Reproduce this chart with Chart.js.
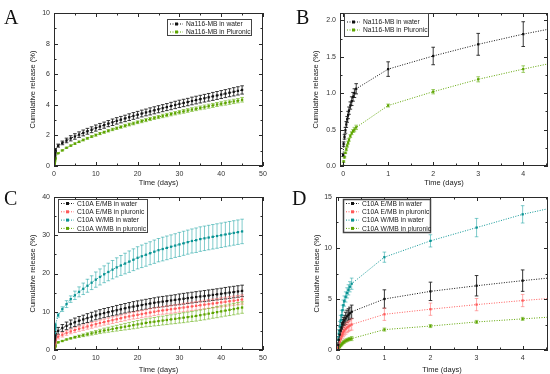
<!DOCTYPE html>
<html lang="en">
  <head>
    <meta charset="UTF-8" />
    <title>Cumulative release</title>
    <script src="https://cdn.jsdelivr.net/npm/chart.js@4"></script>
    <style>
      body { margin: 0; background: #fff; }
      #fig { position: relative; width: 550px; height: 374px; }
      .panel { position: absolute; width: 275px; height: 187px; }
      .letter {
        position: absolute;
        font-family: "Liberation Serif", "DejaVu Serif", serif;
        font-size: 20px;
        color: #111;
        line-height: 1;
      }
    </style>
  </head>
  <body>
    <div id="fig">
      <div class="panel" style="left:0;top:0"><canvas id="chartA" width="275" height="187"></canvas></div>
      <div class="panel" style="left:275px;top:0"><canvas id="chartB" width="275" height="187"></canvas></div>
      <div class="panel" style="left:0;top:187px"><canvas id="chartC" width="275" height="187"></canvas></div>
      <div class="panel" style="left:275px;top:187px"><canvas id="chartD" width="275" height="187"></canvas></div>
      <div class="letter" style="left:4px;top:7px">A</div>
      <div class="letter" style="left:296px;top:7px">B</div>
      <div class="letter" style="left:4px;top:188px">C</div>
      <div class="letter" style="left:292px;top:188px">D</div>
    </div>

    <script>
      // time points (days): first hours, then daily
      const timeDays = [
        0, 0.01, 0.03, 0.05, 0.07, 0.09, 0.11, 0.13, 0.16, 0.19, 0.22, 0.25, 0.29,
        1, 2, 3, 4, 5, 6, 7, 8, 9, 10, 11, 12, 13, 14, 15, 16, 17, 18, 19, 20,
        21, 22, 23, 24, 25, 26, 27, 28, 29, 30, 31, 32, 33, 34, 35, 36, 37, 38,
        39, 40, 41, 42, 43, 44, 45,
      ];

      // Na116-MB (panels A, B)
      const naWater = [
        0.15, 0.30, 0.40, 0.49, 0.57, 0.64, 0.70, 0.76, 0.83, 0.89, 0.95, 1.00, 1.06,
        1.33, 1.51, 1.67, 1.81, 1.93, 2.05, 2.16, 2.27, 2.37, 2.48, 2.58, 2.67,
        2.77, 2.86, 2.95, 3.03, 3.11, 3.19, 3.27, 3.35, 3.43, 3.50, 3.57, 3.64,
        3.71, 3.78, 3.85, 3.92, 3.99, 4.06, 4.12, 4.18, 4.25, 4.31, 4.37, 4.43,
        4.49, 4.55, 4.61, 4.67, 4.73, 4.79, 4.85, 4.91, 4.97,
      ];
      const naWaterErr = [
        0.02, 0.03, 0.03, 0.04, 0.04, 0.04, 0.05, 0.05, 0.05, 0.06, 0.06, 0.06, 0.07,
        0.10, 0.12, 0.15, 0.17, 0.18, 0.18, 0.19, 0.19, 0.19, 0.20, 0.20, 0.20,
        0.20, 0.21, 0.21, 0.21, 0.21, 0.22, 0.22, 0.22, 0.22, 0.22, 0.23, 0.23,
        0.23, 0.23, 0.23, 0.24, 0.24, 0.24, 0.24, 0.24, 0.25, 0.25, 0.25, 0.25,
        0.25, 0.26, 0.26, 0.26, 0.26, 0.26, 0.27, 0.27, 0.27,
      ];
      const naPluronic = [
        0.00, 0.06, 0.12, 0.18, 0.23, 0.28, 0.32, 0.36, 0.41, 0.45, 0.48, 0.50, 0.53,
        0.83, 1.02, 1.19, 1.33, 1.46, 1.58, 1.70, 1.81, 1.92, 2.02, 2.12, 2.21,
        2.30, 2.39, 2.47, 2.55, 2.63, 2.71, 2.78, 2.86, 2.93, 3.00, 3.07, 3.14,
        3.20, 3.27, 3.33, 3.39, 3.45, 3.51, 3.57, 3.63, 3.69, 3.74, 3.80, 3.85,
        3.91, 3.96, 4.02, 4.07, 4.12, 4.17, 4.22, 4.27, 4.33,
      ];
      const naPluronicErr = [
        0.01, 0.01, 0.01, 0.01, 0.02, 0.02, 0.02, 0.02, 0.02, 0.02, 0.02, 0.03, 0.03,
        0.02, 0.03, 0.035, 0.045, 0.05, 0.05, 0.06, 0.06, 0.06, 0.07, 0.07, 0.07,
        0.08, 0.08, 0.08, 0.08, 0.09, 0.09, 0.09, 0.09, 0.10, 0.10, 0.10, 0.10,
        0.10, 0.11, 0.11, 0.11, 0.11, 0.11, 0.12, 0.12, 0.12, 0.12, 0.12, 0.13,
        0.13, 0.13, 0.13, 0.13, 0.14, 0.14, 0.14, 0.14, 0.15,
      ];

      // C10A (panels C, D)
      const emWater = [
        0.5, 1.0, 1.5, 1.9, 2.2, 2.5, 2.7, 2.9, 3.1, 3.3, 3.45, 3.6, 3.75,
        5.0, 5.75, 6.3, 6.8, 7.25, 7.65, 8.0, 8.35, 8.7, 9.05, 9.35, 9.65,
        9.9, 10.15, 10.4, 10.65, 10.9, 11.15, 11.35, 11.55, 11.75, 11.95, 12.15, 12.35,
        12.5, 12.65, 12.8, 12.95, 13.1, 13.25, 13.4, 13.55, 13.7, 13.85, 14.0, 14.1,
        14.25, 14.4, 14.55, 14.7, 14.85, 15.0, 15.15, 15.3, 15.45,
      ];
      const emWaterErr = [
        0.2, 0.3, 0.4, 0.4, 0.5, 0.5, 0.5, 0.5, 0.6, 0.6, 0.6, 0.6, 0.65,
        0.9, 0.9, 1.0, 1.05, 1.1, 1.1, 1.1, 1.15, 1.15, 1.15, 1.2, 1.2,
        1.2, 1.2, 1.25, 1.25, 1.25, 1.25, 1.3, 1.3, 1.3, 1.3, 1.3, 1.3,
        1.35, 1.35, 1.35, 1.35, 1.35, 1.4, 1.4, 1.4, 1.4, 1.4, 1.4, 1.45,
        1.45, 1.45, 1.45, 1.45, 1.5, 1.5, 1.5, 1.5, 1.5,
      ];
      const emPluronic = [
        0.2, 0.5, 0.8, 1.1, 1.35, 1.55, 1.75, 1.9, 2.05, 2.2, 2.3, 2.4, 2.5,
        3.5, 4.0, 4.45, 4.85, 5.2, 5.55, 5.85, 6.15, 6.45, 6.75, 7.05, 7.3,
        7.55, 7.8, 8.05, 8.3, 8.55, 8.8, 9.0, 9.2, 9.4, 9.6, 9.8, 10.0,
        10.2, 10.35, 10.5, 10.65, 10.8, 10.95, 11.1, 11.25, 11.4, 11.55, 11.7, 11.85,
        12.0, 12.15, 12.3, 12.45, 12.6, 12.75, 12.9, 13.05, 13.2,
      ];
      const emPluronicErr = [
        0.2, 0.25, 0.3, 0.35, 0.4, 0.4, 0.45, 0.45, 0.5, 0.5, 0.5, 0.5, 0.55,
        0.6, 0.6, 0.6, 0.6, 0.65, 0.65, 0.7, 0.7, 0.75, 0.75, 0.8, 0.8,
        0.8, 0.85, 0.85, 0.85, 0.9, 0.9, 0.9, 0.95, 0.95, 0.95, 1.0, 1.0,
        1.0, 1.0, 1.05, 1.05, 1.05, 1.05, 1.1, 1.1, 1.1, 1.1, 1.1, 1.15,
        1.15, 1.15, 1.15, 1.2, 1.2, 1.2, 1.2, 1.2, 1.2,
      ];
      const wmWater = [
        1.0, 1.6, 2.3, 2.9, 3.4, 3.9, 4.4, 4.8, 5.2, 5.6, 5.9, 6.2, 6.5,
        9.1, 10.7, 12.0, 13.3, 14.3, 15.2, 16.0, 16.8, 17.6, 18.4, 19.1, 19.8,
        20.4, 21.0, 21.6, 22.1, 22.6, 23.1, 23.6, 24.1, 24.5, 24.9, 25.3, 25.7,
        26.1, 26.4, 26.7, 27.0, 27.3, 27.6, 27.9, 28.2, 28.5, 28.7, 29.0, 29.2,
        29.4, 29.6, 29.8, 30.0, 30.2, 30.4, 30.6, 30.8, 31.0,
      ];
      const wmWaterErr = [
        0.3, 0.4, 0.5, 0.5, 0.5, 0.5, 0.5, 0.5, 0.5, 0.5, 0.5, 0.5, 0.55,
        0.5, 0.6, 0.9, 0.85, 1.1, 1.3, 1.5, 1.7, 1.8, 2.0, 2.1, 2.2,
        2.3, 2.4, 2.5, 2.6, 2.7, 2.8, 2.85, 2.9, 2.95, 3.0, 3.0, 3.05,
        3.05, 3.1, 3.1, 3.1, 3.1, 3.15, 3.15, 3.15, 3.15, 3.2, 3.2, 3.2,
        3.2, 3.2, 3.2, 3.2, 3.2, 3.2, 3.2, 3.2, 3.2,
      ];
      const wmPluronic = [
        0.0, 0.15, 0.3, 0.45, 0.55, 0.65, 0.75, 0.82, 0.9, 0.97, 1.03, 1.08, 1.12,
        2.0, 2.35, 2.75, 3.05, 3.35, 3.6, 3.85, 4.1, 4.35, 4.6, 4.85, 5.1,
        5.3, 5.5, 5.7, 5.9, 6.1, 6.3, 6.5, 6.7, 6.9, 7.1, 7.25, 7.4,
        7.55, 7.7, 7.85, 8.0, 8.15, 8.3, 8.45, 8.6, 8.75, 8.9, 9.1, 9.3,
        9.5, 9.7, 9.9, 10.1, 10.3, 10.5, 10.7, 10.9, 11.1,
      ];
      const wmPluronicErr = [
        0.05, 0.08, 0.1, 0.1, 0.12, 0.12, 0.12, 0.15, 0.15, 0.15, 0.15, 0.15, 0.2,
        0.15, 0.15, 0.15, 0.15, 0.25, 0.3, 0.35, 0.4, 0.45, 0.5, 0.55, 0.6,
        0.65, 0.7, 0.75, 0.8, 0.85, 0.9, 0.95, 1.0, 1.0, 1.05, 1.1, 1.1,
        1.15, 1.15, 1.2, 1.2, 1.25, 1.25, 1.3, 1.3, 1.3, 1.35, 1.35, 1.4,
        1.4, 1.4, 1.45, 1.45, 1.45, 1.5, 1.5, 1.5, 1.5,
      ];

      const FONT = "'Liberation Sans', Arial, sans-serif";

      function pts(values) {
        return values.map((v, i) => ({ x: timeDays[i], y: v }));
      }

      function series(label, values, errs, color, errColor) {
        return {
          label: label,
          data: pts(values),
          errors: errs,
          errColor: errColor,
          showLine: true,
          borderColor: color,
          backgroundColor: color,
          borderWidth: 1,
          borderDash: [1, 1.5],
          pointStyle: "rect",
          pointRadius: 1.6,
          pointBorderWidth: 0,
          pointHoverRadius: 1.6,
        };
      }

      // error bars, frame, inner ticks, legend box
      const originPlugin = {
        id: "originStyle",
        beforeDatasetsDraw(chart) {
          const ctx = chart.ctx;
          const a = chart.chartArea;
          ctx.save();
          ctx.beginPath();
          ctx.rect(a.left, a.top, a.right - a.left, a.bottom - a.top);
          ctx.clip();
          chart.data.datasets.forEach((ds) => {
            ctx.strokeStyle = ds.errColor;
            ctx.lineWidth = 0.9;
            ds.data.forEach((p, i) => {
              const e = ds.errors[i];
              const x = chart.scales.x.getPixelForValue(p.x);
              const y1 = chart.scales.y.getPixelForValue(p.y - e);
              const y2 = chart.scales.y.getPixelForValue(p.y + e);
              ctx.beginPath();
              ctx.moveTo(x, y1);
              ctx.lineTo(x, y2);
              ctx.moveTo(x - 1.8, y1);
              ctx.lineTo(x + 1.8, y1);
              ctx.moveTo(x - 1.8, y2);
              ctx.lineTo(x + 1.8, y2);
              ctx.stroke();
            });
          });
          ctx.restore();
        },
        afterDraw(chart) {
          const ctx = chart.ctx;
          const a = chart.chartArea;
          const sx = chart.scales.x;
          const sy = chart.scales.y;
          ctx.save();
          ctx.strokeStyle = "#2a2a2a";
          ctx.lineWidth = 1;
          ctx.strokeRect(Math.round(a.left) + 0.5, Math.round(a.top) + 0.5,
            Math.round(a.right - a.left) - 1, Math.round(a.bottom - a.top) - 1);
          ctx.beginPath();
          const xt = sx.ticks.map((t) => t.value);
          const yt = sy.ticks.map((t) => t.value);
          const step = (arr) => (arr.length > 1 ? arr[1] - arr[0] : 1);
          const xs = step(xt);
          const ys = step(yt);
          for (let v = xt[0]; v <= sx.max + 1e-9; v += xs / 2) {
            const px = Math.round(sx.getPixelForValue(v)) + 0.5;
            const major = Math.abs(v / xs - Math.round(v / xs)) < 1e-6;
            const len = major ? 4 : 2.5;
            ctx.moveTo(px, a.bottom);
            ctx.lineTo(px, a.bottom - len);
            ctx.moveTo(px, a.top);
            ctx.lineTo(px, a.top + len);
          }
          for (let v = yt[0]; v <= sy.max + 1e-9; v += ys / 2) {
            const py = Math.round(sy.getPixelForValue(v)) + 0.5;
            const major = Math.abs(v / ys - Math.round(v / ys)) < 1e-6;
            const len = major ? 4 : 2.5;
            ctx.moveTo(a.left, py);
            ctx.lineTo(a.left + len, py);
            ctx.moveTo(a.right, py);
            ctx.lineTo(a.right - len, py);
          }
          ctx.stroke();

          // legend
          const lg = chart.options.plugins.boxLegend;
          ctx.fillStyle = "#fff";
          ctx.fillRect(lg.x, lg.y, lg.w, lg.h);
          ctx.strokeStyle = "#444";
          ctx.lineWidth = lg.lw;
          ctx.strokeRect(lg.x + 0.5, lg.y + 0.5, lg.w, lg.h);
          ctx.font = "6.7px " + FONT;
          ctx.textBaseline = "middle";
          chart.data.datasets.forEach((ds, i) => {
            const ry = lg.y + lg.first + i * lg.row;
            ctx.strokeStyle = ds.borderColor;
            ctx.lineWidth = 1;
            ctx.setLineDash([1, 1.5]);
            ctx.beginPath();
            ctx.moveTo(lg.x + 3, ry);
            ctx.lineTo(lg.x + 16, ry);
            ctx.stroke();
            ctx.setLineDash([]);
            ctx.fillStyle = ds.borderColor;
            ctx.fillRect(lg.x + 8, ry - 1.5, 3, 3);
            ctx.fillStyle = "#222";
            ctx.fillText(ds.label, lg.x + 19, ry + 0.5);
          });
          ctx.restore();
        },
      };

      function makeChart(id, datasets, opt) {
        return new Chart(document.getElementById(id), {
          type: "scatter",
          data: { datasets: datasets },
          plugins: [originPlugin],
          options: {
            responsive: false,
            animation: false,
            events: [],
            layout: { padding: { top: opt.top, right: opt.right, left: opt.left, bottom: 0 } },
            plugins: {
              legend: { display: false },
              tooltip: { enabled: false },
              boxLegend: opt.legend,
            },
            scales: {
              x: {
                type: "linear",
                min: opt.xmin,
                max: opt.xmax,
                grid: { display: false, drawTicks: false },
                border: { display: false },
                ticks: {
                  stepSize: opt.xstep,
                  includeBounds: false,
                  color: "#333",
                  font: { family: FONT, size: 7 },
                  padding: 4,
                  maxRotation: 0,
                },
                title: {
                  display: true,
                  text: "Time (days)",
                  color: "#222",
                  font: { family: FONT, size: 7.5 },
                  padding: { top: 0, bottom: 0 },
                },
                afterFit(scale) {
                  scale.height = opt.xh;
                },
              },
              y: {
                type: "linear",
                min: opt.ymin,
                max: opt.ymax,
                grid: { display: false, drawTicks: false },
                border: { display: false },
                ticks: {
                  stepSize: opt.ystep,
                  includeBounds: false,
                  color: "#333",
                  font: { family: FONT, size: 7 },
                  padding: 4,
                  callback: opt.yfmt,
                },
                title: {
                  display: true,
                  text: "Cumulative release (%)",
                  color: "#222",
                  font: { family: FONT, size: 7.5 },
                  padding: { top: 0, bottom: 0 },
                },
                afterFit(scale) {
                  scale.width = opt.yw;
                },
              },
            },
          },
        });
      }

      const BLACK = "#111111";
      const GREEN = "#5da400";
      const RED = "#ff5a5a";
      const TEAL = "#0a9494";

      const naSets = () => [
        series("Na116-MB in water", naWater, naWaterErr, BLACK, "#222"),
        series("Na116-MB in Pluronic", naPluronic, naPluronicErr, GREEN, "rgba(110,180,30,0.75)"),
      ];
      const cSets = () => [
        series("C10A E/MB in water", emWater, emWaterErr, BLACK, "#222"),
        series("C10A E/MB in pluronic", emPluronic, emPluronicErr, RED, "rgba(255,120,120,0.7)"),
        series("C10A W/MB in water", wmWater, wmWaterErr, TEAL, "rgba(20,160,160,0.6)"),
        series("C10A W/MB in pluronic", wmPluronic, wmPluronicErr, GREEN, "rgba(110,180,30,0.7)"),
      ];

      makeChart("chartA", naSets(), {
        top: 13, right: 12, left: 28, yw: 26, xh: 21,
        xmin: 0, xmax: 50, xstep: 10, ymin: 0, ymax: 10, ystep: 2,
        legend: { x: 167, y: 19, w: 84, h: 16, first: 5, row: 8, lw: 1 },
      });
      makeChart("chartB", naSets(), {
        top: 13, right: 2, left: 36, yw: 29, xh: 21,
        xmin: -0.07, xmax: 4.55, xstep: 1, ymin: 0, ymax: 2.1, ystep: 0.5,
        yfmt: (v) => v.toFixed(1),
        legend: { x: 69, y: 13, w: 84, h: 23, first: 9, row: 8, lw: 1 },
      });
      makeChart("chartC", cSets(), {
        top: 10, right: 12, left: 28, yw: 26, xh: 24,
        xmin: 0, xmax: 50, xstep: 10, ymin: 0, ymax: 40, ystep: 10,
        legend: { x: 58, y: 12, w: 89, h: 33, first: 4.5, row: 8.3, lw: 1 },
      });
      makeChart("chartD", cSets(), {
        top: 10, right: 2, left: 37, yw: 24, xh: 24,
        xmin: -0.05, xmax: 4.55, xstep: 1, ymin: 0, ymax: 15, ystep: 5,
        legend: { x: 68, y: 12, w: 87, h: 33, first: 4.5, row: 8.3, lw: 1.5 },
      });
    </script>
  </body>
</html>
